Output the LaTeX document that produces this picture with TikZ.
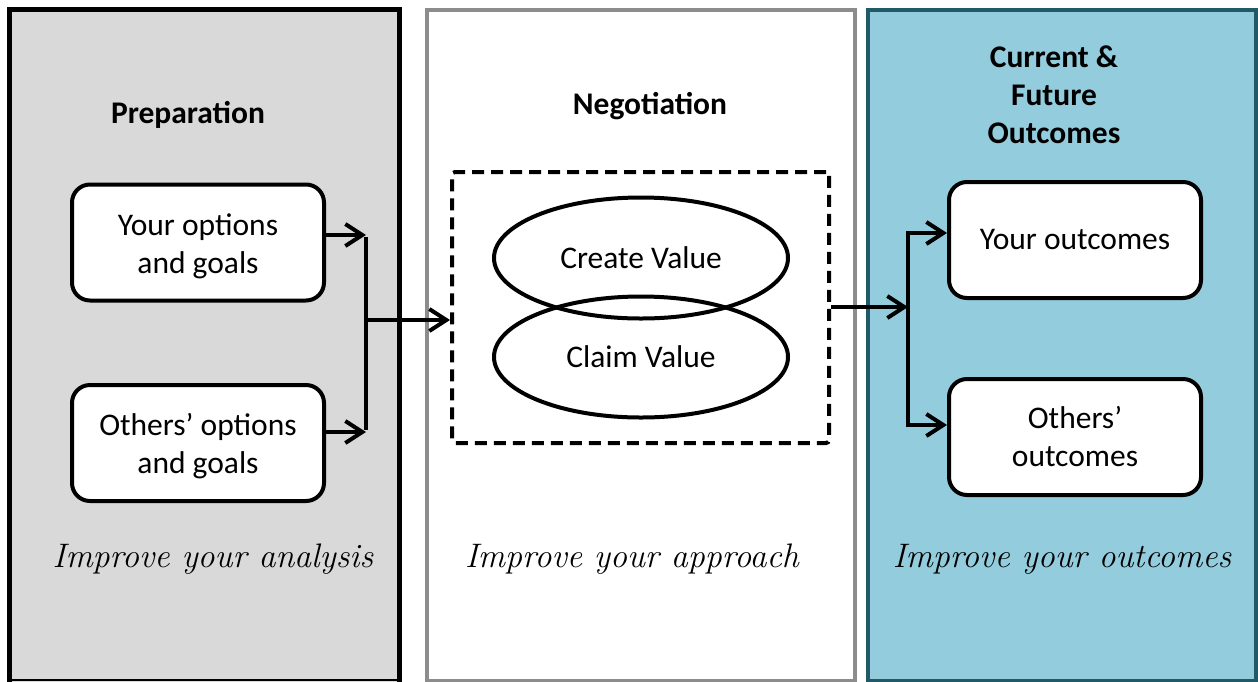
\documentclass[tikz,border=0pt]{standalone}
\usepackage{fontspec}
\setmainfont{Carlito}
\newfontfamily\handfont{Latin Modern Roman}
\usetikzlibrary{arrows.meta,shapes.geometric}
\definecolor{panelgray}{HTML}{D9D9D9}
\definecolor{panelblue}{HTML}{93CDDD}
\definecolor{tealedge}{HTML}{215968}
\definecolor{midedge}{HTML}{8C8C8C}
\begin{document}
\begin{tikzpicture}[x=1pt,y=-1pt,
  bodyfont/.style={font=\fontsize{31.5}{38}\selectfont},
  optbox/.style={draw, line width=4pt, rounded corners=18pt, fill=white,
    minimum width=252pt, minimum height=116pt, align=center, inner sep=0pt, bodyfont},
  valring/.style={ellipse, draw, line width=4pt, minimum width=294pt,
    minimum height=121pt, inner sep=0pt, bodyfont},
  dashbox/.style={draw, line width=4pt, dash pattern=on 12pt off 7pt,
    rounded corners=3pt, minimum width=377pt, minimum height=271pt, inner sep=0pt},
  head/.style={font=\bfseries\fontsize{31.5}{38}\selectfont, align=center},
  hand/.style={font=\handfont\itshape\fontsize{34}{40}\selectfont, anchor=base},
  tip/.tip={Straight Barb[length=17pt,width=22pt]},
  arr/.style={line width=4pt, line join=miter, -tip},
  conn/.style={line width=4pt, line join=miter}]
\useasboundingbox (0,0) rectangle (1258,681);
% panels
\fill[panelgray] (9.5,9.5) rectangle (399.5,682);
\draw[line width=5pt] (9.5,683) -- (9.5,9.5) -- (399.5,9.5) -- (399.5,683);
\draw[line width=1.5pt] (9.5,680) -- (399.5,680);
\draw[midedge, line width=4pt, fill=white] (427,9.5) rectangle (855,680.5);
\draw[tealedge, line width=4pt, fill=panelblue] (868,9.5) rectangle (1256,680.5);
% headers
\node[head] (prep) at (188,115) {Preparation};
\node[head] (nego) at (650,106) {Negotiation};
\node[head] (outc) at (1054,95) {Current \&\\Future\\Outcomes};
% preparation boxes
\node[optbox, label={[bodyfont, align=center, yshift=-4pt]center:{Your options\\and goals}}] (yog) at (198,242.5) {};
\node[optbox, label={[bodyfont, align=center, yshift=-3pt]center:{Others' options\\and goals}}] (oog) at (198,443) {};
% negotiation
\node[dashbox] (neg) at (640.5,307.5) {};
\node[valring] (cv) at (641,258) {Create Value};
\node[valring] (clv) at (641,357) {Claim Value};
% outcome boxes
\node[optbox] (yout) at (1075,240) {Your outcomes};
\node[optbox] (oout) at (1075,437) {Others'\\outcomes};
% connectors left
\coordinate (j1) at (366,235);
\coordinate (j2) at (366,432);
\coordinate (jm) at (366,320);
\draw[arr] (yog.east |- j1) -- (j1);
\draw[arr] (oog.east |- j2) -- (j2);
\draw[conn] ([yshift=-2pt]j1) -- ([yshift=2pt]j2);
\draw[arr] (jm) -- (neg.west |- jm);
% connectors right
\coordinate (k1) at (908,233);
\coordinate (k2) at (908,425);
\coordinate (km) at (908,307);
\draw[arr] (neg.east |- km) -- (km);
\draw[line width=4pt, line join=miter, tip-tip]
  (yout.west |- k1) -- (k1) -- (k2) -- (oout.west |- k2);
% script lines
\node[hand] (ia) at (213,567) {Improve your analysis};
\node[hand] (ib) at (632,567) {Improve your approach};
\node[hand] (ic) at (1062,567) {Improve your outcomes};
\end{tikzpicture}
\end{document}
